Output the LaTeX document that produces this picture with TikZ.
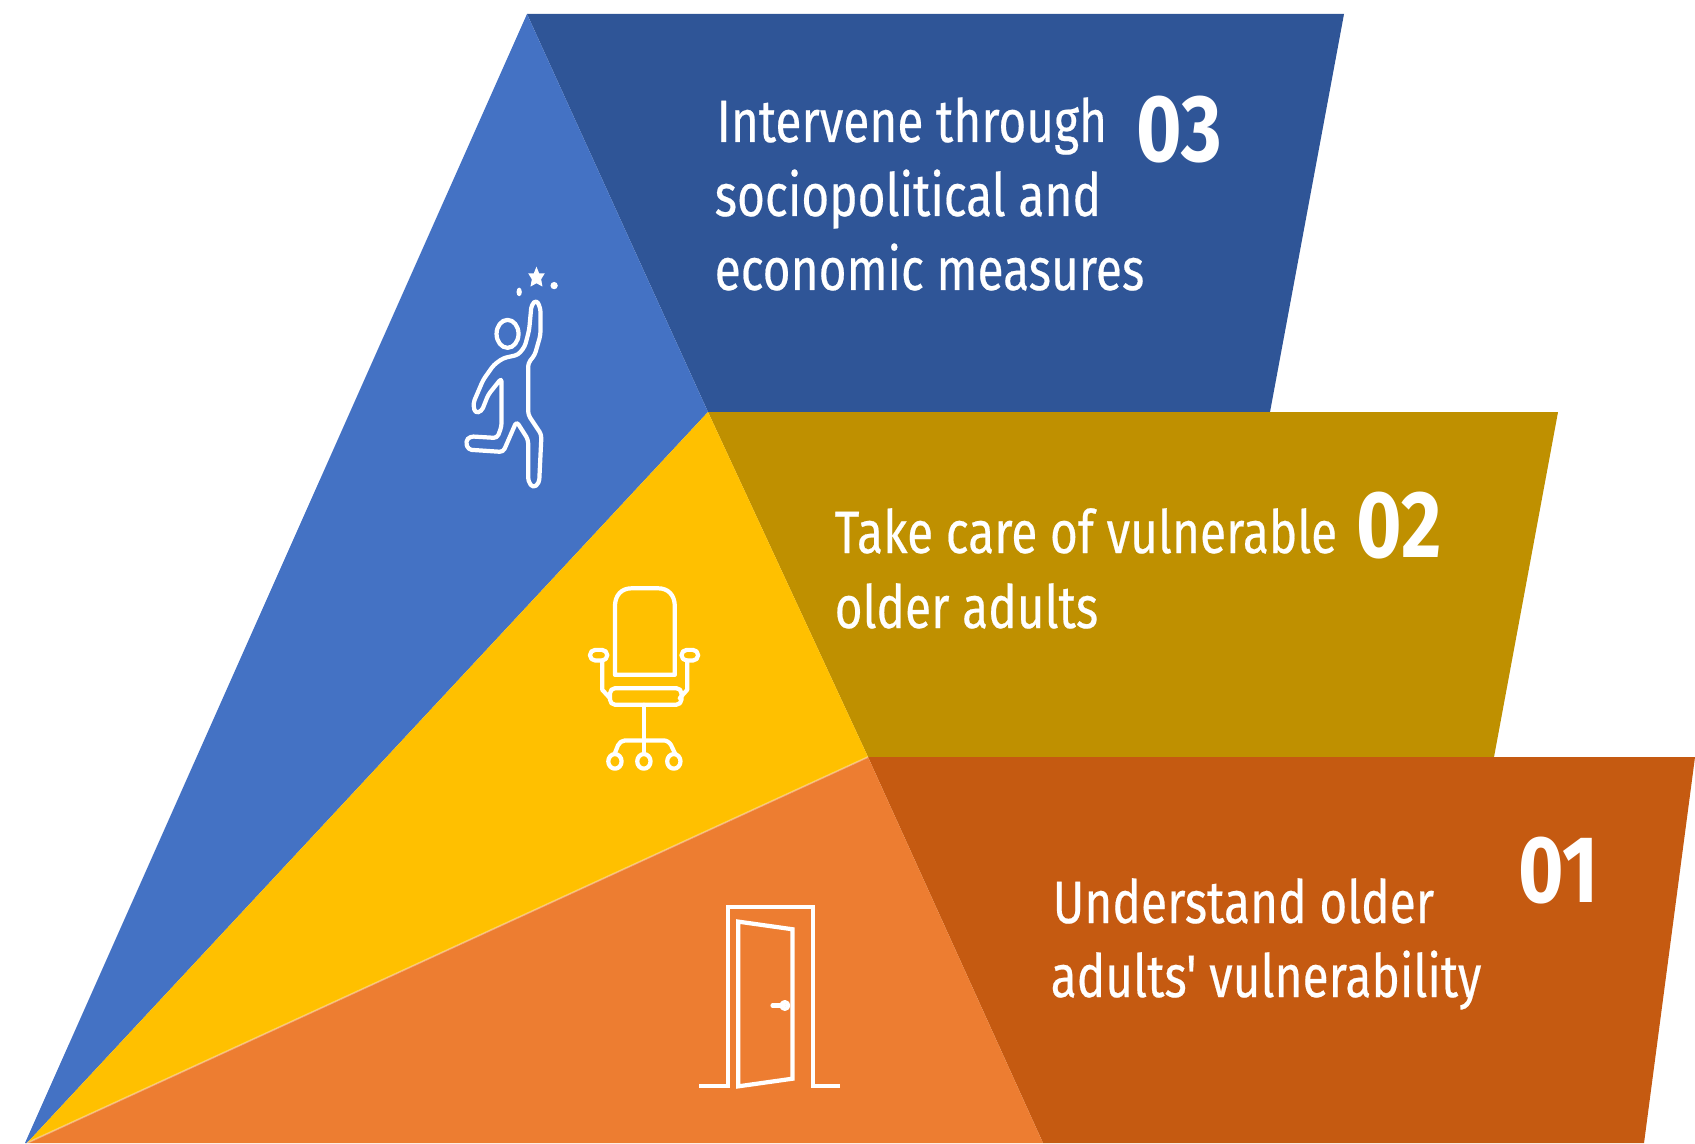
\documentclass[tikz,border=0pt]{standalone}
\usepackage{fontspec}
\setmainfont{Fira Sans}
\newfontfamily\txtfont[FakeStretch=0.80,FakeBold=0.35]{Fira Sans}
\newfontfamily\numfont[FakeStretch=0.82]{Fira Sans}[BoldFont={Fira Sans Bold}]
\definecolor{blueL}{HTML}{4472C4}
\definecolor{blueD}{HTML}{2F5597}
\definecolor{yelL}{HTML}{FFC000}
\definecolor{yelD}{HTML}{BF9000}
\definecolor{oraL}{HTML}{ED7D31}
\definecolor{oraD}{HTML}{C55A11}
\tikzset{
  label text/.style={anchor=base west,inner sep=0pt,text=white,font=\txtfont\fontsize{17}{20}\selectfont},
  label num/.style={anchor=base west,inner sep=0pt,text=white,font=\numfont\bfseries\fontsize{27}{30}\selectfont},
  icon/.style={draw=white,line width=1.2pt,line join=round,line cap=round,fill=none},
  zoomed/.style={x=0.0033333cm,y=-0.0033333cm}
}
\begin{document}
\begin{tikzpicture}[x=0.01cm,y=-0.01cm]
\useasboundingbox (0,0) rectangle (1695,1143);
% panels
\fill[blueD] (527,14) -- (1344,14) -- (1270,412) -- (708,412) -- cycle;
\fill[yelD] (708,412) -- (1558,412) -- (1494,757) -- (868,757) -- cycle;
\fill[oraD] (868,757) -- (1695,757) -- (1644,1143) -- (1043,1143) -- cycle;
\fill[blueL] (527,14) -- (708,412) -- (27,1143) -- (25,1143) -- cycle;
\fill[yelL] (708,412) -- (868,757) -- (27,1143) -- cycle;
\fill[oraL] (868,757) -- (1043,1143) -- (27,1143) -- cycle;
\draw[white,opacity=.35,line width=0.5pt] (868,757) -- (27,1143);
% labels
\node[label text] (t31) at (716,142) {Intervene through};
\node[label text] (t32) at (714,216) {sociopolitical and};
\node[label text] (t33) at (714,290) {economic measures};
\node[label num] (n3) at (1136,162) {03};
\node[label text] (t21) at (834,553) {Take care of vulnerable};
\node[label text] (t22) at (834,628) {older adults};
\node[label num] (n2) at (1356,557) {02};
\node[label text] (t11) at (1052,923) {Understand older};
\node[label text] (t12) at (1050,997) {adults' vulnerability};
\node[label num] (n1) at (1518,902) {01};
% person
\begin{scope}[shift={(420,240)},zoomed]
\draw[icon] (263,282) ellipse (33 and 42);
\draw[icon,rounded corners=1pt] (325,525) -- (325,370) -- (345,345) -- (362,285) -- (362,205) -- (350,180) -- (335,195) -- (328,270) -- (315,320) -- (295,345) -- (250,355) -- (222,375) -- (190,420) -- (160,490) -- (165,520) -- (185,515) -- (205,465) -- (245,415) -- (245,560) -- (232,595) -- (150,590) -- (137,605) -- (145,630) -- (250,637) -- (290,545) -- (325,600) -- (325,725) -- (340,745) -- (358,730) -- (365,585) -- cycle;
\fill[white] (350,80) -- (358,100) -- (375,100) -- (364,118) -- (368,140) -- (350,130) -- (332,140) -- (336,118) -- (325,100) -- (342,100) -- cycle;
\fill[white] (403,137) circle (11);
\fill[white] (298,156) ellipse (8 and 13);
\end{scope}
% chair
\begin{scope}[shift={(570,570)},zoomed]
\draw[icon] (135,315) -- (135,110) .. controls (135,75) and (155,55) .. (185,55) -- (265,55) .. controls (295,55) and (315,75) .. (315,110) -- (315,315) -- cycle;
\draw[icon,rounded corners=1.5pt] (120,355) rectangle (335,405);
\draw[icon,rounded corners=1.5pt] (60,240) rectangle (112,272);
\draw[icon,rounded corners=1.5pt] (335,240) rectangle (385,272);
\draw[icon] (97,272) -- (97,360) -- (120,385);
\draw[icon] (352,272) -- (352,360) -- (330,385);
\draw[icon] (222,405) -- (222,550);
\draw[icon,rounded corners=1.5pt] (135,550) -- (150,512) -- (297,512) -- (315,550);
\draw[icon] (135,575) ellipse (20 and 22);
\draw[icon] (222,575) ellipse (20 and 22);
\draw[icon] (312,575) ellipse (20 and 22);
\end{scope}
% door
\begin{scope}[shift={(680,880)},zoomed]
\draw[icon,line cap=butt,line join=miter] (58,620) -- (145,620) -- (145,80) -- (400,80) -- (400,620) -- (482,620);
\draw[icon,line join=miter] (175,620) -- (175,125) -- (338,148) -- (338,597) -- cycle;
\draw[icon] (278,377) -- (312,377);
\draw[icon] (315,377) circle (10);
\end{scope}
\end{tikzpicture}
\end{document}
